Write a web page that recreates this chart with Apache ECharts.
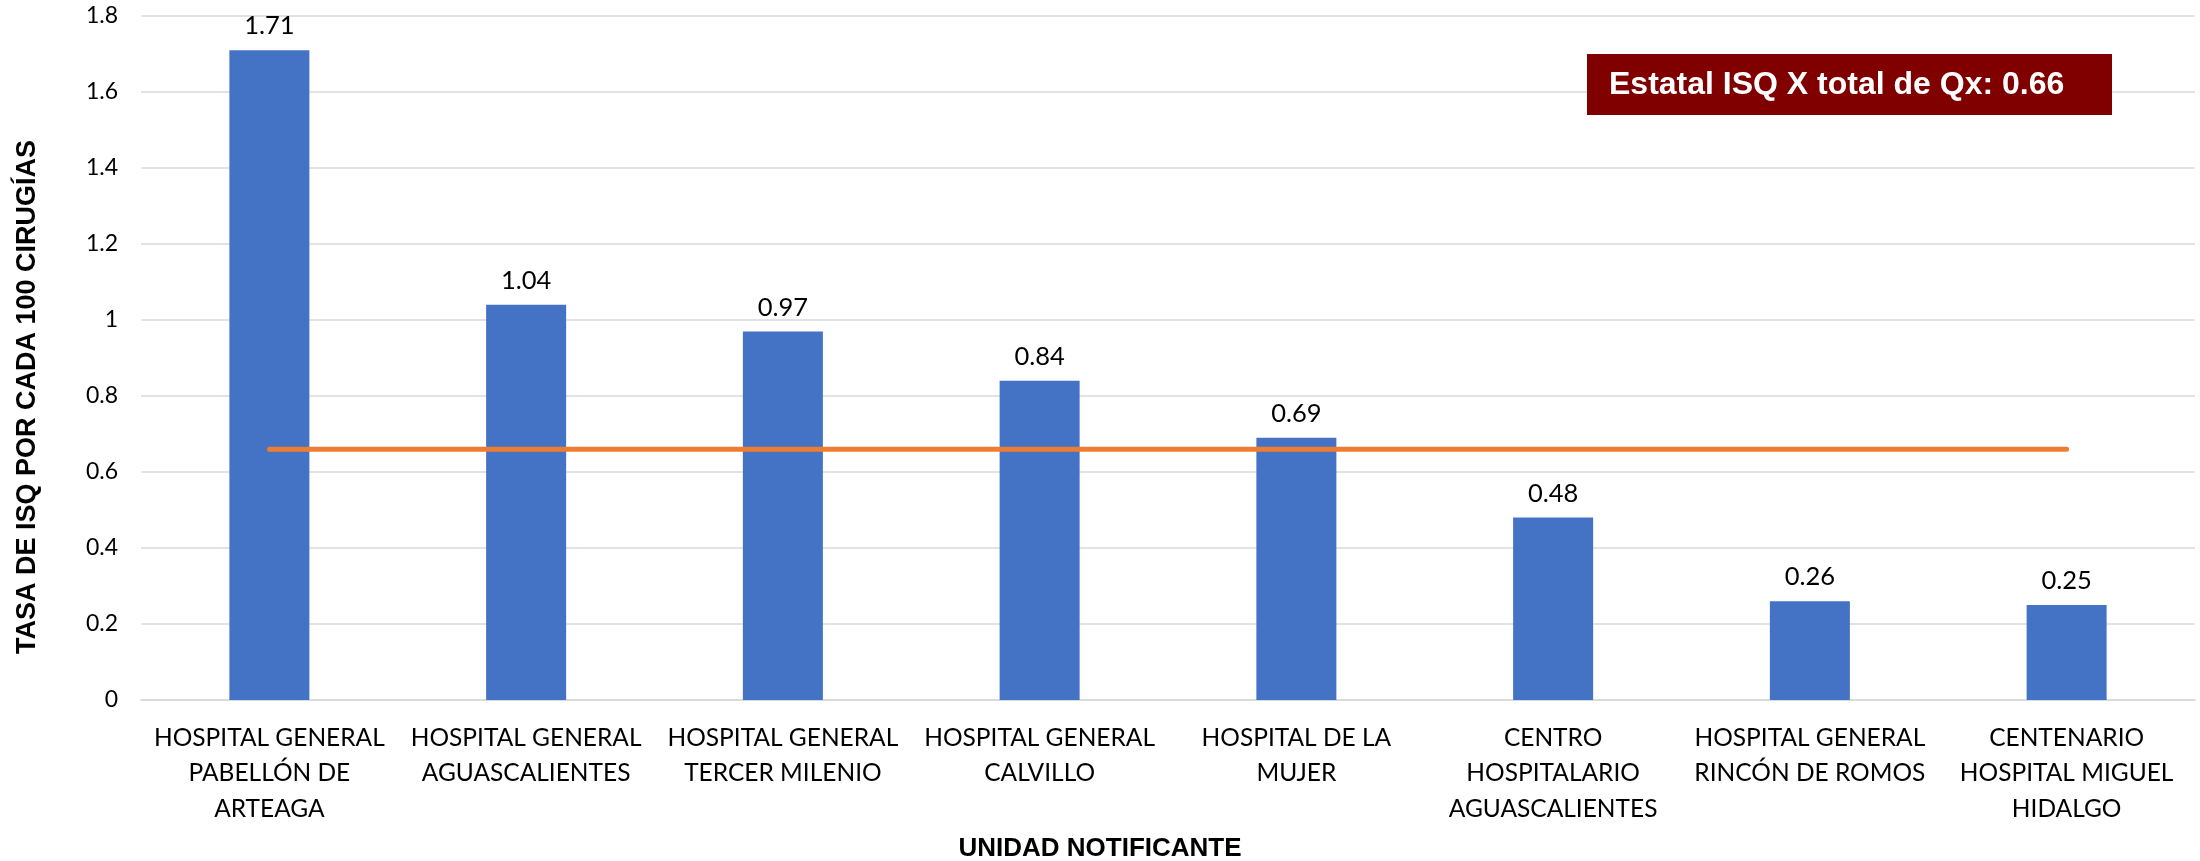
<!DOCTYPE html>
<html>
<head>
<meta charset="utf-8">
<script src="https://cdn.jsdelivr.net/npm/echarts@6/dist/echarts.min.js"></script>
<style>
html,body{margin:0;padding:0;background:#fff;}
#chart{width:2200px;height:861px;}
</style>
</head>
<body>
<div id="chart"></div>
<script>
const categories = [
  "HOSPITAL GENERAL\nPABELLÓN DE\nARTEAGA",
  "HOSPITAL GENERAL\nAGUASCALIENTES",
  "HOSPITAL GENERAL\nTERCER MILENIO",
  "HOSPITAL GENERAL\nCALVILLO",
  "HOSPITAL DE LA\nMUJER",
  "CENTRO\nHOSPITALARIO\nAGUASCALIENTES",
  "HOSPITAL GENERAL\nRINCÓN DE ROMOS",
  "CENTENARIO\nHOSPITAL MIGUEL\nHIDALGO"
];
const tasaValues = [1.71, 1.04, 0.97, 0.84, 0.69, 0.48, 0.26, 0.25];
const estatalValue = 0.66;
const estatalLine = categories.map(() => estatalValue);
const yTicks = { min: 0, max: 1.8, interval: 0.2 };
const yAxisTitle = "TASA DE ISQ POR CADA 100 CIRUGÍAS";
const xAxisTitle = "UNIDAD NOTIFICANTE";
const boxText = "Estatal ISQ X total de Qx: " + estatalValue.toFixed(2);

const chart = echarts.init(document.getElementById('chart'), null, {renderer: 'canvas'});
const option = {
  backgroundColor: '#ffffff',
  animation: false,
  grid: { left: 141, right: 5, top: 16, bottom: 161, containLabel: false },
  xAxis: {
    type: 'category',
    data: categories,
    boundaryGap: true,
    axisLine: { show: true, lineStyle: { color: '#d9d9d9', width: 1.5 } },
    axisTick: { show: false },
    axisLabel: {
      interval: 0,
      margin: 20,
      color: '#000',
      fontFamily: 'Lato',
      fontSize: 24.5,
      lineHeight: 35.5
    }
  },
  yAxis: {
    type: 'value',
    min: yTicks.min,
    max: yTicks.max,
    interval: yTicks.interval,
    axisLine: { show: false },
    axisTick: { show: false },
    axisLabel: { color: '#000', fontFamily: 'Lato', fontSize: 23, margin: 23 },
    splitLine: { show: true, lineStyle: { color: '#d9d9d9', width: 1.5 } }
  },
  series: [
    {
      type: 'bar',
      data: tasaValues,
      barWidth: 80,
      itemStyle: { color: '#4472C4' },
      label: {
        show: true,
        position: 'top',
        distance: 11,
        color: '#000',
        fontFamily: 'Lato',
        fontSize: 25.5,
        formatter: p => p.value.toFixed(2)
      },
      z: 2
    },
    {
      type: 'line',
      data: estatalLine,
      symbol: 'none',
      lineStyle: { color: '#ED7D31', width: 5, cap: 'round' },
      z: 3
    }
  ],
  graphic: [
    {
      type: 'text',
      x: 28, y: 397,
      rotation: Math.PI / 2,
      style: {
        text: yAxisTitle,
        fill: '#000',
        font: 'bold 27px "Liberation Sans", Arial, sans-serif',
        textAlign: 'center',
        textVerticalAlign: 'middle'
      }
    },
    {
      type: 'text',
      x: 1100, y: 849,
      style: {
        text: xAxisTitle,
        fill: '#000',
        font: 'bold 26px "Liberation Sans", Arial, sans-serif',
        textAlign: 'center',
        textVerticalAlign: 'middle'
      }
    },
    {
      type: 'rect',
      shape: { x: 1587, y: 54, width: 525, height: 61 },
      style: { fill: '#800000' },
      z: 10
    },
    {
      type: 'text',
      x: 1609, y: 85,
      style: {
        text: boxText,
        fill: '#ffffff',
        font: 'bold 32px "Liberation Sans", Arial, sans-serif',
        textAlign: 'left',
        textVerticalAlign: 'middle'
      },
      z: 11
    }
  ]
};
chart.setOption(option);
</script>
</body>
</html>
